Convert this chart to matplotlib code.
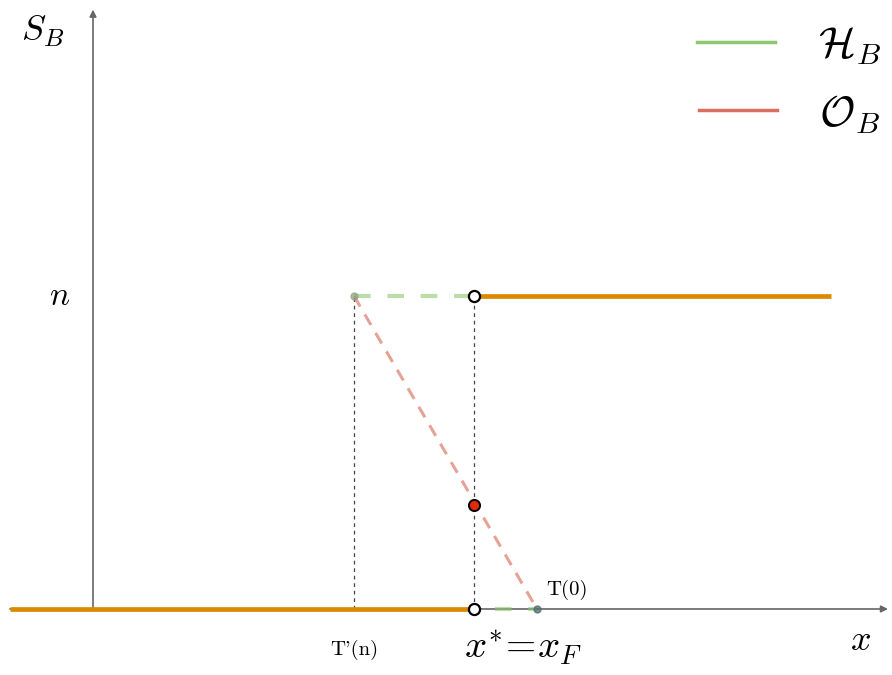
import matplotlib
matplotlib.use("Agg")
import matplotlib.pyplot as plt

plt.rcParams['mathtext.fontset'] = 'cm'

# Key positions (data units)
x_left, x_Tn, x_star, x_T0, x_right, x_axis_end = -0.83, 2.61, 3.81, 4.44, 7.38, 7.95
y_low, y_n, y_top = 0.0, 1.0, 1.915
y_dot = 0.333

orange = '#d98a00'
green = '#8cc870'
red = '#d9705f'
gray = '#666666'

fig = plt.figure(figsize=(8.92, 6.75), dpi=100)
ax = fig.add_axes([0, 0, 1, 1])
ax.set_xlim(-0.93, 7.99)
ax.set_ylim(-0.2109, 1.9457)
ax.axis('off')

# axes arrows
ax.annotate('', xy=(x_axis_end, 0), xytext=(x_left, 0),
            arrowprops=dict(arrowstyle='-|>', color=gray, lw=1.2, mutation_scale=10, shrinkA=0, shrinkB=0))
ax.annotate('', xy=(0, y_top), xytext=(0, 0),
            arrowprops=dict(arrowstyle='-|>', color=gray, lw=1.2, mutation_scale=10, shrinkA=0, shrinkB=0))

# vertical dashed guides
ax.plot([x_Tn, x_Tn], [y_low, y_n], ls=(0, (3, 3)), color='#444444', lw=0.9, zorder=2)
ax.plot([x_star, x_star], [y_low, y_n], ls=(0, (3, 3)), color='#444444', lw=0.9, zorder=2)

# H_B (green dashed)
ax.plot([x_Tn, x_star], [y_n, y_n], ls=(0, (4, 4)), color=green, alpha=0.6, lw=3, zorder=3)
ax.plot([x_star, x_T0], [y_low, y_low], ls=(3, (4, 4)), color=green, alpha=0.6, lw=3, zorder=3)

# O_B (red dashed)
ax.plot([x_Tn, x_T0], [y_n, y_low], ls=(0, (4, 3)), color=red, alpha=0.65, lw=2.2, zorder=3)

# S_B (orange)
ax.plot([x_left, x_star], [y_low, y_low], color=orange, lw=3.4, solid_capstyle='butt', zorder=4)
ax.plot([x_star, x_right], [y_n, y_n], color=orange, lw=3.4, solid_capstyle='butt', zorder=4)

# points
ax.plot([x_star, x_star], [y_low, y_n], 'o', ms=8, mfc='white', mec='black', mew=1.6, zorder=6)
ax.plot([x_star], [y_dot], 'o', ms=8, mfc='#e02a08', mec='black', mew=1.4, zorder=6)
ax.plot([x_T0], [y_low], 'o', ms=5, color='#557070', alpha=0.8, zorder=5)
ax.plot([x_Tn], [y_n], 'o', ms=5, color='#90a080', alpha=0.7, zorder=5)

# labels
ax.text(-0.5, 1.845, r'$S_B$', fontsize=26, ha='center', va='center')
ax.text(-0.33, y_n, r'$n$', fontsize=24, ha='center', va='center')
ax.text(7.67, -0.10, r'$x$', fontsize=26, ha='center', va='center')
ax.text(x_star + 0.49, -0.125, r'$x^{*}\!=\!x_F$', fontsize=28, ha='center', va='center')
ax.text(x_T0 + 0.3, 0.06, "T(0)", family='cmr10', fontsize=15, ha='center', va='center')
ax.text(x_Tn, -0.13, "T'(n)", family='cmr10', fontsize=15, ha='center', va='center')

# legend
ax.plot([6.04, 6.82], [1.813, 1.813], color=green, lw=2.5)
ax.plot([6.06, 6.84], [1.593, 1.593], color=red, lw=2.5)
ax.text(7.57, 1.80, r'$\mathcal{H}_B$', fontsize=31, ha='center', va='center')
ax.text(7.57, 1.58, r'$\mathcal{O}_B$', fontsize=31, ha='center', va='center')

fig.savefig('out.png', dpi=100)
